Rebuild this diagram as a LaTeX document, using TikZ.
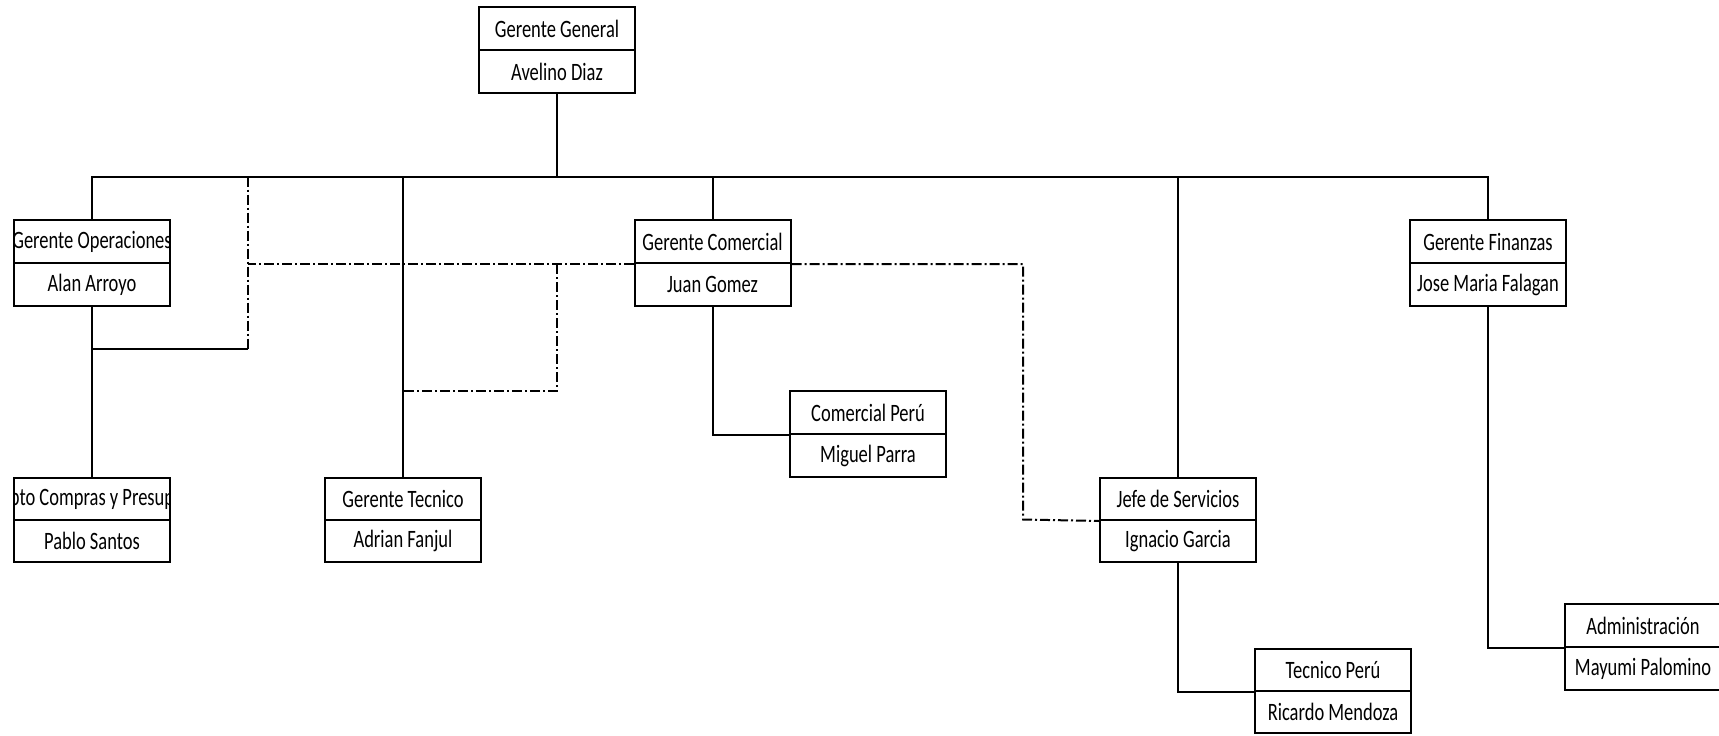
\documentclass[tikz,border=0pt]{standalone}
\usepackage{fontspec}
\setmainfont{Carlito}[FakeStretch=0.74]
\usepackage{tikz}

\tikzset{
  cargo/.style={draw, line width=2pt, minimum width=156pt, minimum height=43pt,
    inner sep=0pt, font=\fontsize{25}{29}\selectfont},
  bajo/.style={minimum height=42pt},
  recorte/.style={path picture={\node[font=\fontsize{25}{29}\selectfont]
    at (path picture bounding box.center) {#1};}},
  enlace/.style={line width=2pt},
  funcional/.style={line width=2pt, dash pattern=on 10pt off 3pt on 2pt off 3pt},
}

\begin{document}
\begin{tikzpicture}[x=1pt,y=-1pt]
    \useasboundingbox (0,0) rectangle (1719,736);

    % Gerente General
    \node[cargo] (gg) at (557,28.5) {Gerente General};
    \node[cargo] (ggn) at (557,71.5) {Avelino Diaz};

    % Second level
    \node[cargo, recorte={Gerente Operaciones}] (go) at (92,241.5) {};
    \node[cargo] (gon) at (92,284.5) {Alan Arroyo};
    \node[cargo] (gc) at (712.5,241.5) {Gerente Comercial};
    \node[cargo] (gcn) at (712.5,284.5) {Juan Gomez};
    \node[cargo] (gf) at (1488,241.5) {Gerente Finanzas};
    \node[cargo] (gfn) at (1488,284.5) {Jose Maria Falagan};

    % Third level
    \node[cargo, bajo, recorte={pto Compras y Presup}] (dp) at (92,499) {};
    \node[cargo, bajo] (dpn) at (92,541) {Pablo Santos};
    \node[cargo, bajo] (gt) at (403,499) {Gerente Tecnico};
    \node[cargo, bajo] (gtn) at (403,541) {Adrian Fanjul};
    \node[cargo, bajo] (js) at (1178,499) {Jefe de Servicios};
    \node[cargo, bajo] (jsn) at (1178,541) {Ignacio Garcia};
    \node[cargo] (cp) at (868,412.5) {Comercial Perú};
    \node[cargo] (cpn) at (868,455.5) {Miguel Parra};

    % Fourth level
    \node[cargo, bajo] (tp) at (1333,670) {Tecnico Perú};
    \node[cargo, bajo] (tpn) at (1333,712) {Ricardo Mendoza};
    \node[cargo] (ad) at (1643,625.5) {Administración};
    \node[cargo] (adn) at (1643,668.5) {Mayumi Palomino};

    % Solid lines
    \coordinate (bar) at (557,176.5);
    \draw[enlace] (ggn.south) -- (bar);
    \draw[enlace] (bar) -| (go.north);
    \draw[enlace] (bar) -| (gt.north);
    \draw[enlace] (bar) -| (gc.north);
    \draw[enlace] (bar) -| (js.north);
    \draw[enlace] (bar) -| (gf.north);
    \draw[line width=1.2pt] (gon.south) -- (dp.north);
    \draw[enlace] (gcn.south) |- (cp.south west);
    \draw[enlace] (jsn.south) |- (tp.south west);
    \draw[enlace] (gfn.south) |- (ad.south west);

    % Dashed lines
    \coordinate (d1) at (248,176.5);
    \coordinate (d1b) at (248,348.5);
    \coordinate (d2) at (557,390.5);
    \coordinate (d3) at (1023,519.5);
    \draw[funcional] (d1) -- (d1b);
    \draw[enlace] (d1b) -- (gon.south |- d1b);
    \draw[funcional] (gc.south west) -- (gc.south west -| d1);
    \draw[funcional] (d2 |- gc.south west) -- (d2) -- (gt.north |- d2);
    \draw[funcional] (gc.south east) -| (d3) -- (js.south west);
\end{tikzpicture}
\end{document}
